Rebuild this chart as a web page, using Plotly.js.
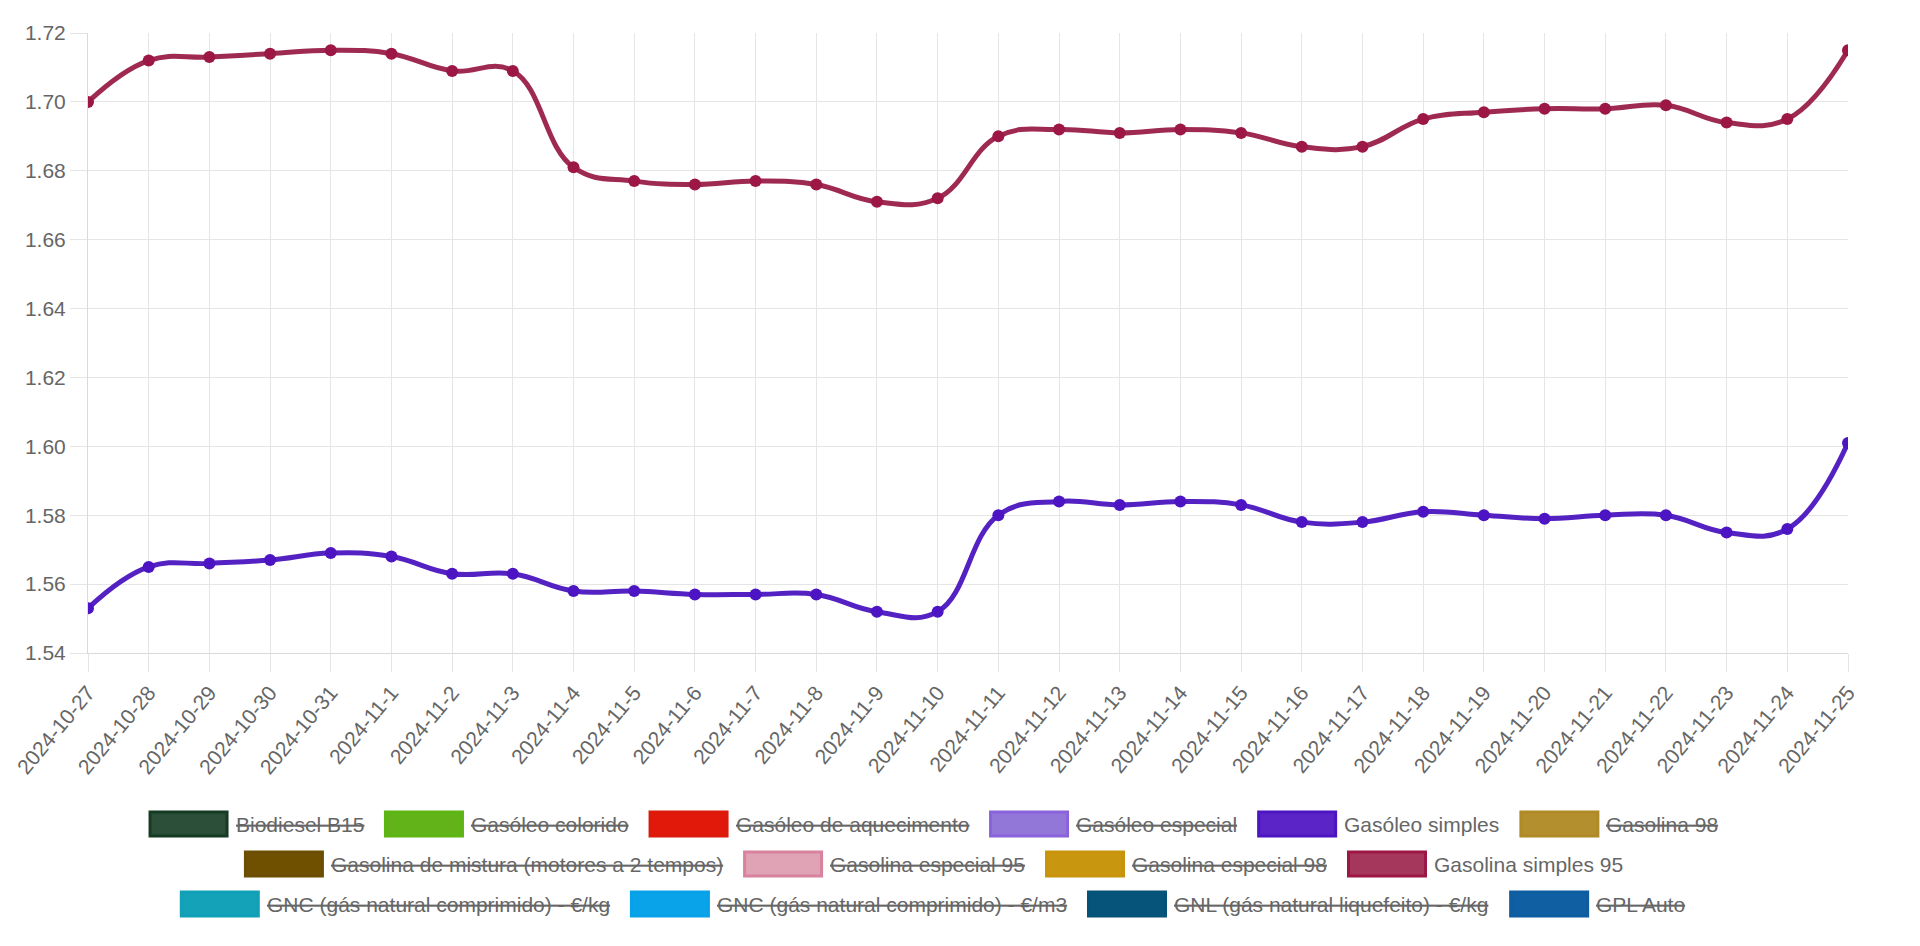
<!DOCTYPE html>
<html>
<head>
<meta charset="utf-8">
<script src="https://cdn.plot.ly/plotly-3.0.1.min.js"></script>
<style>
  html, body { margin: 0; padding: 0; background: #fff; overflow: hidden; }
  #chart { width: 1920px; height: 946px; }
</style>
</head>
<body>
<div id="chart"></div>
<script>
// --- data ---
const dates = [
  '2024-10-27', '2024-10-28', '2024-10-29', '2024-10-30', '2024-10-31',
  '2024-11-1', '2024-11-2', '2024-11-3', '2024-11-4', '2024-11-5',
  '2024-11-6', '2024-11-7', '2024-11-8', '2024-11-9', '2024-11-10',
  '2024-11-11', '2024-11-12', '2024-11-13', '2024-11-14', '2024-11-15',
  '2024-11-16', '2024-11-17', '2024-11-18', '2024-11-19', '2024-11-20',
  '2024-11-21', '2024-11-22', '2024-11-23', '2024-11-24', '2024-11-25'
];

const gasoleoSimples = [
  1.553, 1.565, 1.566, 1.567, 1.569, 1.568, 1.563, 1.563, 1.558, 1.558,
  1.557, 1.557, 1.557, 1.552, 1.552, 1.580, 1.584, 1.583, 1.584, 1.583,
  1.578, 1.578, 1.581, 1.580, 1.579, 1.580, 1.580, 1.575, 1.576, 1.601
];

const gasolinaSimples95 = [
  1.700, 1.712, 1.713, 1.714, 1.715, 1.714, 1.709, 1.709, 1.681, 1.677,
  1.676, 1.677, 1.676, 1.671, 1.672, 1.690, 1.692, 1.691, 1.692, 1.691,
  1.687, 1.687, 1.695, 1.697, 1.698, 1.698, 1.699, 1.694, 1.695, 1.715
];

// legend entries, in the order they are laid out (one list per row)
const legendRows = [
  ['Biodiesel B15', 'Gasóleo colorido', 'Gasóleo de aquecimento', 'Gasóleo especial', 'Gasóleo simples', 'Gasolina 98'],
  ['Gasolina de mistura (motores a 2 tempos)', 'Gasolina especial 95', 'Gasolina especial 98', 'Gasolina simples 95'],
  ['GNC (gás natural comprimido) - €/kg', 'GNC (gás natural comprimido) - €/m3', 'GNL (gás natural liquefeito) - €/kg', 'GPL Auto']
];

// only these two are switched on, the rest are struck through
const shownSeries = ['Gasóleo simples', 'Gasolina simples 95'];

// --- styles ---
const legendColors = {
  'Biodiesel B15': { fill: '#2c4f39', border: '#173a24' },
  'Gasóleo colorido': { fill: '#62b31a', border: '#5cb512' },
  'Gasóleo de aquecimento': { fill: '#e0190a', border: '#dc1a0c' },
  'Gasóleo especial': { fill: '#9277d8', border: '#8863dc' },
  'Gasóleo simples': { fill: '#5a24c7', border: '#4c14c2' },
  'Gasolina 98': { fill: '#b38f2d', border: '#b08a25' },
  'Gasolina de mistura (motores a 2 tempos)': { fill: '#6f5000', border: '#6c4e02' },
  'Gasolina especial 95': { fill: '#e0a2b5', border: '#d9829d' },
  'Gasolina especial 98': { fill: '#c99610', border: '#c7940c' },
  'Gasolina simples 95': { fill: '#a5375d', border: '#9c1745' },
  'GNC (gás natural comprimido) - €/kg': { fill: '#13a2b8', border: '#11a0b6' },
  'GNC (gás natural comprimido) - €/m3': { fill: '#08a3e8', border: '#06a1e6' },
  'GNL (gás natural liquefeito) - €/kg': { fill: '#06547a', border: '#055278' },
  'GPL Auto': { fill: '#0f5fa2', border: '#0d5da0' }
};

const FONT = 'Liberation Sans, Arial, sans-serif';
const TEXT = '#666666';
const GRID = '#e5e5e5';

const W = 1920, H = 946;
const M = { l: 88, r: 72, t: 33, b: 293 };

const traces = [
  {
    x: dates,
    y: gasolinaSimples95,
    name: 'Gasolina simples 95',
    type: 'scatter',
    mode: 'lines+markers',
    line: { color: '#9e2a52', width: 5, shape: 'spline', smoothing: 1.2 },
    marker: { color: '#9c1745', size: 12 },
    showlegend: false
  },
  {
    x: dates,
    y: gasoleoSimples,
    name: 'Gasóleo simples',
    type: 'scatter',
    mode: 'lines+markers',
    line: { color: '#5421c2', width: 5, shape: 'spline', smoothing: 1.2 },
    marker: { color: '#4c14c2', size: 12 },
    showlegend: false
  }
];

// Chart.js style legend: coloured box + label, rows centred
const pw = W - M.l - M.r;
const ph = H - M.t - M.b;
const toPaperX = x => (x - M.l) / pw;
const toPaperY = y => (H - M.b - y) / ph;

const ctx = document.createElement('canvas').getContext('2d');
ctx.font = '21px "Liberation Sans"';

const BOX_W = 80, BOX_H = 27, GAP = 8, PAD = 19;
const LEGEND_CX = 934;
const ROW_Y = [824, 864, 904];

const shapes = [];
const annotations = [];

legendRows.forEach((row, r) => {
  const widths = row.map(name => ctx.measureText(name).width);
  const total = widths.reduce((s, w) => s + BOX_W + GAP + w, 0) + PAD * (row.length - 1);
  let x = LEGEND_CX - total / 2;
  const yc = ROW_Y[r];
  row.forEach((name, i) => {
    const c = legendColors[name];
    shapes.push({
      type: 'rect', xref: 'paper', yref: 'paper',
      x0: toPaperX(x + 1.5), x1: toPaperX(x + BOX_W - 1.5),
      y0: toPaperY(yc + BOX_H / 2 - 1.5), y1: toPaperY(yc - BOX_H / 2 + 1.5),
      fillcolor: c.fill,
      line: { color: c.border, width: 3 }
    });
    const shown = shownSeries.includes(name);
    annotations.push({
      xref: 'paper', yref: 'paper',
      x: toPaperX(x + BOX_W + GAP - 3), y: toPaperY(yc),
      xanchor: 'left', yanchor: 'middle',
      showarrow: false,
      text: shown ? name : '<s>' + name + '</s>',
      font: { family: FONT, size: 21, color: TEXT }
    });
    x += BOX_W + GAP + widths[i] + PAD;
  });
});

const layout = {
  width: W,
  height: H,
  margin: M,
  paper_bgcolor: '#ffffff',
  plot_bgcolor: '#ffffff',
  font: { family: FONT, size: 21, color: TEXT },
  showlegend: false,
  xaxis: {
    type: 'category',
    range: [0, dates.length - 1],
    tickangle: -50,
    ticks: 'outside',
    ticklen: 18,
    tickcolor: GRID,
    showgrid: true,
    gridcolor: GRID,
    showline: true,
    linecolor: '#d9d9d9',
    zeroline: false,
    automargin: false,
    tickfont: { family: FONT, size: 21, color: TEXT }
  },
  yaxis: {
    range: [1.54, 1.72],
    tick0: 1.54,
    dtick: 0.02,
    tickformat: '.2f',
    ticks: 'outside',
    ticklen: 17,
    tickcolor: GRID,
    showgrid: true,
    gridcolor: GRID,
    showline: true,
    linecolor: '#d9d9d9',
    zeroline: false,
    automargin: false,
    tickfont: { family: FONT, size: 21, color: TEXT }
  },
  shapes: shapes,
  annotations: annotations
};

Plotly.newPlot('chart', traces, layout, { displayModeBar: false, responsive: false });
</script>
</body>
</html>
